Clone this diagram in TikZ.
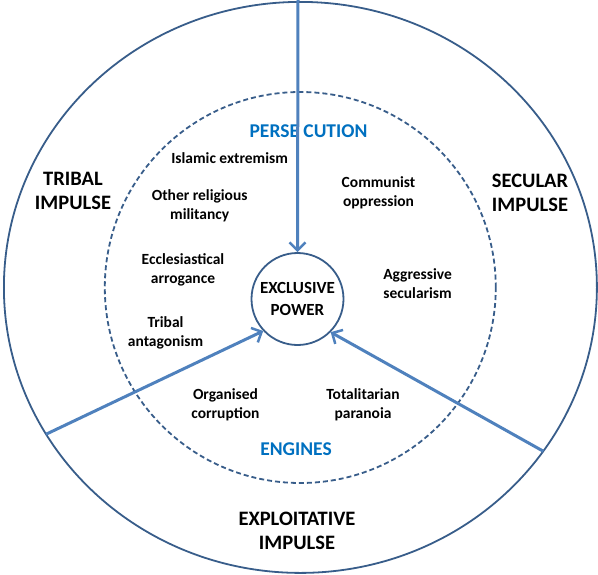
\documentclass[tikz,border=0pt]{standalone}
\usepackage{fontspec}
\setmainfont{Carlito}
\usepackage{tikz}
\usepackage{xcolor}
\usetikzlibrary{arrows.meta, shapes.geometric}

\definecolor{rimblue}{HTML}{385D8A}
\definecolor{arrowblue}{HTML}{4F81BD}
\definecolor{headblue}{HTML}{0070C0}

\begin{document}
\begin{tikzpicture}[x=1pt, y=-1pt]

	\tikzstyle{arrow} = [line width=3pt, arrowblue, -{Straight Barb[length=8pt, width=16pt, line width=2.5pt]}]
	\tikzstyle{engine} = [font=\fontsize{15.5}{19}\selectfont\bfseries, align=center, inner sep=0pt]
	\tikzstyle{impulse} = [font=\fontsize{20.5}{23.5}\selectfont\bfseries, align=center, inner sep=0pt]
	\tikzstyle{heading} = [font=\fontsize{19.5}{22}\selectfont\bfseries, text=headblue, inner sep=0pt]
	\useasboundingbox (0,0) rectangle (598,574);

	% rings
	\node[ellipse, draw=rimblue, line width=1.8pt, minimum width=593pt, minimum height=571pt, outer sep=0pt] (rim) at (300.4,287.4) {};
	\node[circle, draw=rimblue, dash pattern=on 5pt off 3pt, line width=1.8pt, minimum size=391pt] (ring) at (300.3,287.5) {};
	\node[circle, draw=rimblue, line width=1.8pt, minimum size=92pt, align=center, inner sep=0pt,
	font=\fontsize{17}{22}\selectfont\bfseries] (power) at (297.5,299) {EXCLUSIVE\\POWER};

	% headings
	\node[heading] (persecution) at (308.5,131) {PERSE CUTION};
	\node[heading] (engines) at (296,449) {ENGINES};

	% engines
	\node[engine] (islamic) at (229.6,158) {Islamic extremism};
	\node[engine] (religious) at (199.7,206) {Other religious\\militancy};
	\node[engine] (church) at (183,270) {Ecclesiastical\\arrogance};
	\node[engine] (tribal) at (165.5,333) {Tribal\\antagonism};
	\node[engine] (communist) at (378.5,192.5) {Communist\\oppression};
	\node[engine] (secularism) at (417.6,283.5) {Aggressive\\secularism};
	\node[engine] (corruption) at (225.5,405) {Organised\\corruption};
	\node[engine] (paranoia) at (363,405) {Totalitarian\\paranoia};

	% impulses
	\node[impulse] (tribalimp) at (73,191) {TRIBAL\\IMPULSE};
	\node[impulse] (secularimp) at (530,193) {SECULAR\\IMPULSE};
	\node[impulse] (exploitimp) at (297,531) {EXPLOITATIVE\\IMPULSE};

	\coordinate (topend) at (298,0);
	\draw [arrow] (topend) -- (power.north);
	\draw [arrow] (rim.210) -- (power.223);
	\draw [arrow] (rim.326) -- (power.315);

\end{tikzpicture}
\end{document}
